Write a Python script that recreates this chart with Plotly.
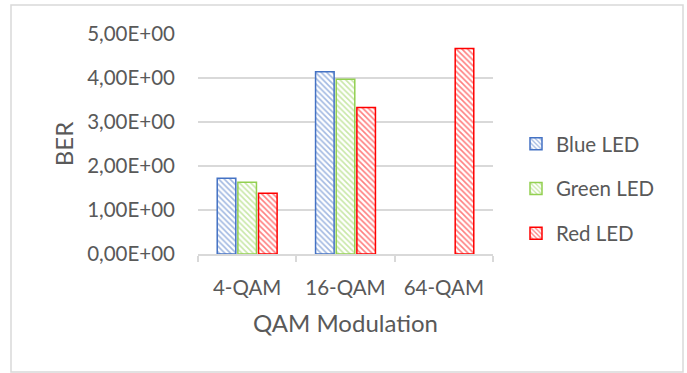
import plotly.graph_objects as go

categories = ["4-QAM", "16-QAM", "64-QAM"]
series_names = ["Blue LED", "Green LED", "Red LED"]
blue_vals = [1.72, 4.14, None]
green_vals = [1.63, 3.97, None]
red_vals = [1.38, 3.33, 4.67]
colors = ["#4472C4", "#92D050", "#FF0000"]
y_tickvals = [0, 1, 2, 3, 4, 5]
y_ticktext = ["0,00E+00", "1,00E+00", "2,00E+00", "3,00E+00", "4,00E+00", "5,00E+00"]

FONT = "Lato"
TXT = "#595959"
GRID = "#d9d9d9"

fig = go.Figure()
for name, vals, col in zip(series_names, [blue_vals, green_vals, red_vals], colors):
    fig.add_trace(go.Bar(
        x=categories, y=vals, name=name, legendgroup=name,
        marker=dict(
            color="white",
            line=dict(color=col, width=1.5),
            pattern=dict(shape="\\", fgcolor=col, bgcolor="white", size=4, solidity=0.4, fillmode="overlay"),
        ),
    ))

W, H = 687, 373
L, R, T, B = 198, 194, 34, 119
pw, ph = W - L - R, H - T - B

def px_x(p):
    return (p - L) / pw

def px_y(p):
    return (H - B - p) / ph

fig.update_layout(
    width=W, height=H,
    margin=dict(l=L, r=R, t=T, b=B, pad=0),
    paper_bgcolor="white", plot_bgcolor="white",
    font=dict(family=FONT, color=TXT, size=20),
    barmode="group", bargap=0.37, bargroupgap=0.1,
    showlegend=True,
    legend=dict(x=px_x(516), xanchor="left", y=px_y(124), yanchor="top",
                font=dict(size=20.5, color=TXT), tracegroupgap=15,
                traceorder="grouped", itemwidth=30),
    xaxis=dict(
        type="category", showgrid=False, showline=True, linecolor=GRID, linewidth=1.5,
        ticks="outside", tickson="boundaries", ticklen=6, tickcolor=GRID, tickwidth=1.5,
        tickfont=dict(size=20.5, color=TXT), ticklabelstandoff=15,
        title=dict(text="QAM Modulation", font=dict(size=24, color=TXT), standoff=17),
        automargin=False,
    ),
    yaxis=dict(
        range=[0, 5], tickvals=y_tickvals, ticktext=y_ticktext,
        showgrid=True, gridcolor=GRID, gridwidth=1.5, zeroline=False, showline=False,
        tickfont=dict(size=20.5, color=TXT), ticklabelstandoff=22,
        title=dict(text="BER", font=dict(size=24, color=TXT), standoff=6),
        automargin=False,
    ),
    shapes=[dict(type="rect", xref="paper", yref="paper",
                 x0=px_x(11), x1=px_x(683), y0=px_y(372), y1=px_y(5),
                 line=dict(color=GRID, width=1.5), fillcolor="rgba(0,0,0,0)", layer="below")],
)

fig.write_html("out.html")
